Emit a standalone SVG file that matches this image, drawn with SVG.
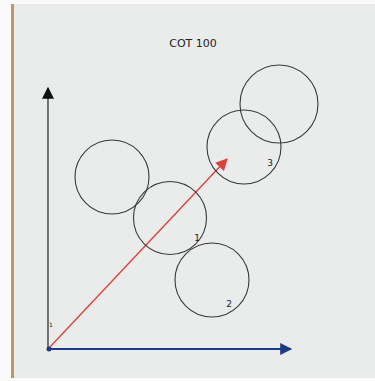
<svg xmlns="http://www.w3.org/2000/svg" width="375" height="381" viewBox="0 0 375 381">
<defs>
<style>
.c{fill:none;stroke:#3a3a3a;stroke-width:1.1}
.t{font-family:"DejaVu Sans","Liberation Sans",sans-serif;fill:#222}
</style>
<marker id="ak" viewBox="0 0 10 10" refX="9" refY="5" markerWidth="12" markerHeight="12" markerUnits="userSpaceOnUse" orient="auto"><path d="M0,0 L10,5 L0,10 Z" fill="#111"/></marker>
<marker id="ab" viewBox="0 0 10 10" refX="9" refY="5" markerWidth="14" markerHeight="12" markerUnits="userSpaceOnUse" orient="auto"><path d="M0,0 L10,5 L0,10 Z" fill="#1d3a86"/></marker>
<marker id="ar" viewBox="0 0 10 10" refX="9" refY="5" markerWidth="13" markerHeight="12" markerUnits="userSpaceOnUse" orient="auto"><path d="M0,0 L10,5 L0,10 Z" fill="#d8453f"/></marker>
</defs>
<rect width="375" height="381" fill="#fafafa"/>
<rect x="11" y="4" width="3" height="374" fill="#b89a6a"/>
<rect x="14" y="4" width="361" height="374" fill="#e9ecea"/>
<text class="t" x="193" y="47" font-size="11" text-anchor="middle">COT 100</text>
<g id="connectors">
<line x1="48" y1="350" x2="48" y2="88" stroke="#222" stroke-width="1.2" marker-end="url(#ak)"/>
<line x1="48" y1="349" x2="291" y2="349" stroke="#1d3a86" stroke-width="2.2" marker-end="url(#ab)"/>
<line x1="49" y1="348" x2="227" y2="159" stroke="#d8453f" stroke-width="1.4" marker-end="url(#ar)"/>
<circle cx="49" cy="349" r="2.5" fill="#1d3a86"/>
</g>
<text class="t" x="51" y="327" font-size="6" text-anchor="middle">1</text>
<g id="n1"><circle class="c" cx="112" cy="177" r="37"/></g>
<g id="n2"><circle class="c" cx="170" cy="218" r="36.5"/><text class="t" x="197" y="241" font-size="9" text-anchor="middle">1</text></g>
<g id="n3"><circle class="c" cx="212" cy="280" r="37"/><text class="t" x="229" y="307" font-size="9" text-anchor="middle">2</text></g>
<g id="n4"><circle class="c" cx="244" cy="147" r="37"/><text class="t" x="270" y="166" font-size="9" text-anchor="middle">3</text></g>
<g id="n5"><circle class="c" cx="279" cy="104" r="39"/></g>
</svg>
